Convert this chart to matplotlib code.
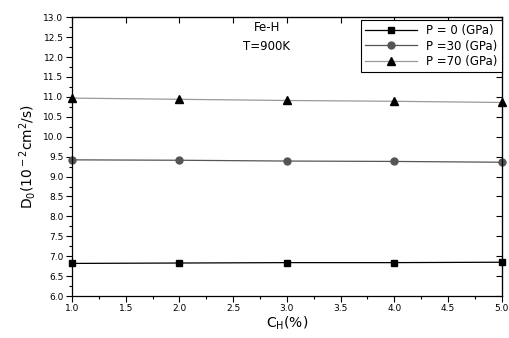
import matplotlib.pyplot as plt
import numpy as np

plt.rcParams['font.family'] = ['DejaVu Sans']

c_h = [1.0, 2.0, 3.0, 4.0, 5.0]
d0_p0 = [6.82, 6.83, 6.84, 6.84, 6.85]
d0_p30 = [9.42, 9.41, 9.39, 9.38, 9.36]
d0_p70 = [10.97, 10.94, 10.91, 10.89, 10.86]

fig = plt.figure(figsize=(5.1, 3.38), dpi=100)
ax = fig.add_axes([0.141, 0.124, 0.843, 0.825])

ax.plot(c_h, d0_p0, color='black', lw=0.9, marker='s', ms=4.5, mfc='black', mec='black',
        label='P = 0 (GPa)', clip_on=False)
ax.plot(c_h, d0_p30, color='#555555', lw=0.9, marker='o', ms=5, mfc='#555555', mec='#555555',
        label='P =30 (GPa)', clip_on=False)
ax.plot(c_h, d0_p70, color='#999999', lw=0.9, marker='^', ms=5.5, mfc='black', mec='black',
        label='P =70 (GPa)', clip_on=False)

ax.set_xlim(1.0, 5.0)
ax.set_ylim(6.0, 13.0)
ax.set_xticks(np.arange(1.0, 5.01, 0.5))
ax.set_yticks(np.arange(6.0, 13.01, 0.5))
ax.set_xticks(np.arange(1.0, 5.01, 0.25), minor=True)
ax.set_yticks(np.arange(6.0, 13.01, 0.25), minor=True)
ax.set_xticklabels(['%.1f' % v for v in np.arange(1.0, 5.01, 0.5)])
ax.set_yticklabels(['%.1f' % v for v in np.arange(6.0, 13.01, 0.5)])
ax.tick_params(which='both', direction='out', labelsize=6.5, width=0.8)
ax.tick_params(which='major', length=4, pad=2)
ax.tick_params(which='minor', length=2)

# inward ticks on top and right
sec_x = ax.secondary_xaxis('top')
sec_x.set_xticks(np.arange(1.0, 5.01, 0.5))
sec_x.tick_params(direction='in', length=4, labeltop=False)
sec_y = ax.secondary_yaxis('right')
sec_y.set_yticks(np.arange(6.0, 13.01, 0.5))
sec_y.tick_params(direction='in', length=4, labelright=False)
for s in ax.spines.values():
    s.set_linewidth(0.9)

ax.set_xlabel('C$_{\\rm H}$(%)', fontsize=10, labelpad=1)
ax.set_ylabel('D$_{\\rm 0}$(10$^{\\rm -2}$cm$^{\\rm 2}$/s)', fontsize=10, labelpad=4)

ax.text(0.423, 0.985, 'Fe-H', transform=ax.transAxes, fontsize=8.5, va='top')
ax.text(0.398, 0.917, 'T=900K', transform=ax.transAxes, fontsize=8.5, va='top')

leg = ax.legend(loc='upper right', bbox_to_anchor=(1.0, 0.99), borderaxespad=0,
                fontsize=8.5, fancybox=False, framealpha=1, edgecolor='black',
                handlelength=4.4, handletextpad=0.8, borderpad=0.35, labelspacing=0.2)
leg.get_frame().set_linewidth(0.8)

plt.savefig('out.png', dpi=100)
